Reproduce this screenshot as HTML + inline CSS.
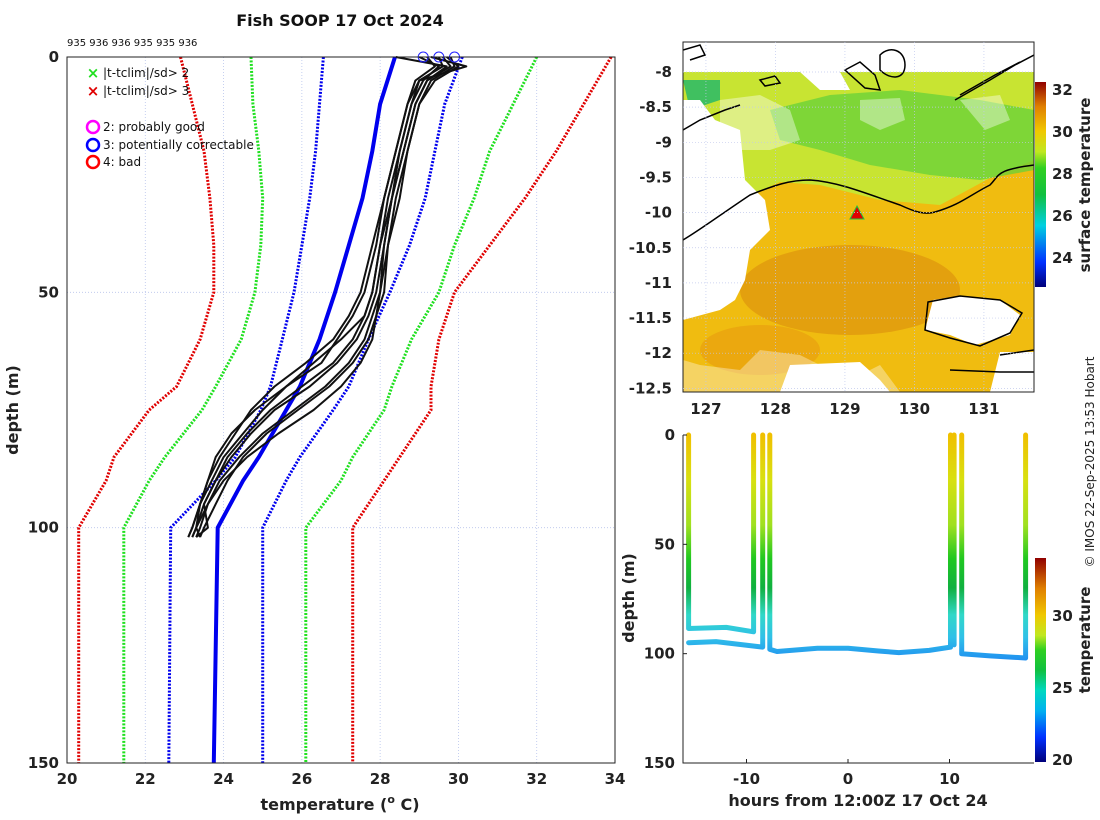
<!DOCTYPE html>
<html><head><meta charset="utf-8"><style>
body{margin:0;background:#fff;}
svg{display:block;font-family:"DejaVu Sans","Liberation Sans",sans-serif;}
.tk{font-size:15px;font-weight:bold;fill:#222;}
</style></head><body>
<svg id="fig" width="1100" height="820" viewBox="0 0 1100 820" xmlns="http://www.w3.org/2000/svg">
<defs>
<linearGradient id="sstbar" x1="0" y1="1" x2="0" y2="0">
<stop offset="0" stop-color="#00007a"/><stop offset="0.12" stop-color="#0030ff"/><stop offset="0.3" stop-color="#00d0e0"/><stop offset="0.45" stop-color="#10c040"/><stop offset="0.58" stop-color="#30d020"/><stop offset="0.66" stop-color="#c0e820"/><stop offset="0.76" stop-color="#f0c800"/><stop offset="0.88" stop-color="#e08000"/><stop offset="1" stop-color="#900000"/>
</linearGradient>
<linearGradient id="tbar" x1="0" y1="1" x2="0" y2="0">
<stop offset="0" stop-color="#00007a"/><stop offset="0.12" stop-color="#0030ff"/><stop offset="0.25" stop-color="#00b0f0"/><stop offset="0.35" stop-color="#00d8c0"/><stop offset="0.45" stop-color="#10c040"/><stop offset="0.55" stop-color="#30d020"/><stop offset="0.62" stop-color="#c0e820"/><stop offset="0.72" stop-color="#f0c800"/><stop offset="0.85" stop-color="#e08000"/><stop offset="1" stop-color="#900000"/>
</linearGradient>
<linearGradient id="trackgrad" gradientUnits="userSpaceOnUse" x1="0" y1="435" x2="0" y2="660">
<stop offset="0" stop-color="#f0c000"/><stop offset="0.2" stop-color="#d8e010"/><stop offset="0.4" stop-color="#a0e020"/><stop offset="0.55" stop-color="#20c820"/><stop offset="0.68" stop-color="#10b040"/><stop offset="0.8" stop-color="#30d8c8"/><stop offset="0.9" stop-color="#30c0e8"/><stop offset="1" stop-color="#2090f0"/>
</linearGradient>
<clipPath id="mapclip"><rect x="683" y="42" width="351" height="350"/></clipPath>
</defs>

<text x="340" y="26" text-anchor="middle" font-size="16" font-weight="bold" fill="#111">Fish SOOP 17 Oct 2024</text>
<text x="67" y="46" font-size="10" fill="#111">935 936 936 935 935 936</text>
<text transform="translate(18,410) rotate(-90)" text-anchor="middle" font-size="16" font-weight="bold" fill="#222">depth (m)</text>
<text x="340" y="810" text-anchor="middle" font-size="16" font-weight="bold" fill="#222">temperature (<tspan font-size="11" dy="-7">o</tspan><tspan dy="7"> C)</tspan></text>
<g id="left"></g>

<g id="map">
<g clip-path="url(#mapclip)">
<rect x="683" y="72" width="351" height="320" fill="#f0bc10"/>
<path d="M683,72 H1034 V160 L990,178 L940,205 L880,200 L820,185 L780,182 L740,200 L683,230 Z" fill="#c8e432"/>
<path d="M770,110 L830,95 L900,90 L980,100 L1034,110 V170 L980,180 L930,175 L870,165 L820,150 L780,140 Z" fill="#66d23a" opacity="0.75"/>
<path d="M683,80 H720 V100 L690,110 Z" fill="#40c060"/>
<ellipse cx="850" cy="290" rx="110" ry="45" fill="#e0980e" opacity="0.8"/>
<ellipse cx="760" cy="350" rx="60" ry="25" fill="#e8a010" opacity="0.7"/>
<path d="M683,100 H700 L715,120 L740,130 L745,180 L765,200 L770,230 L750,250 L745,280 L735,300 L720,310 L683,320 Z" fill="#fff"/>
<path d="M720,100 L760,95 L790,110 L800,140 L770,150 L740,150 L720,130 Z" fill="#fff" opacity="0.4"/>
<path d="M800,72 L840,72 L850,90 L820,90 Z" fill="#fff"/>
<path d="M860,100 L900,98 L905,120 L880,130 L860,120 Z" fill="#fff" opacity="0.4"/>
<path d="M960,100 L1000,95 L1010,120 L985,130 Z" fill="#fff" opacity="0.4"/>
<path d="M683,360 L700,365 L740,370 L760,350 L800,355 L830,370 L860,375 L880,365 L900,392 H683 Z" fill="#fff" opacity="0.35"/>
<path d="M780,392 L790,365 L860,362 L880,380 L890,392 Z" fill="#fff"/>
<path d="M933,300 L960,296 L1000,300 L1020,315 L1010,335 L975,345 L950,335 L925,330 Z" fill="#fff"/>
<path d="M1000,352 H1034 V392 H990 Z" fill="#fff"/>
<rect x="683" y="42" width="351" height="30" fill="#fff"/>
<g fill="none" stroke="#000" stroke-width="1.5">
<path d="M683,240 C700,230 720,215 750,195 C775,185 790,180 810,180 C840,182 870,195 900,205 C915,212 925,215 935,212 C960,205 970,195 990,185 C1000,175 995,170 1034,165"/>
<path d="M683,130 L700,120 L725,110 L740,105"/>
<path d="M928,302 L960,296 L1000,300 L1022,313 L1010,333 L980,346 L950,338 L925,330 Z"/>
<path d="M1000,355 L1034,350"/><path d="M950,370 L1000,372 L1034,372"/>
<path d="M955,100 L990,80 L1015,65 L1034,55"/><path d="M960,95 L995,75 L1020,62"/>
<path d="M880,55 C890,45 905,50 905,65 C905,80 890,80 880,70 Z"/>
<path d="M845,70 L860,62 L875,75 L880,90 L865,88 Z"/>
<path d="M683,50 L700,45 L705,55 L690,60"/>
<path d="M760,80 L775,76 L780,83 L765,86 Z"/>
</g>
<path d="M857,206 L864,219 L850,219 Z" fill="#e00000" stroke="#20c040" stroke-width="1"/>
</g>
<rect x="683" y="42" width="351" height="350" fill="none" stroke="#222" stroke-width="1"/>
</g>
<rect x="1035" y="82" width="11" height="205" fill="url(#sstbar)"/>
<text transform="translate(1090,185) rotate(-90)" text-anchor="middle" font-size="15" font-weight="bold" fill="#222">surface temperature</text>
<g id="mapaxes"></g>

<g id="track"></g>
<rect x="1035" y="558" width="11" height="204" fill="url(#tbar)"/>
<text transform="translate(1090,640) rotate(-90)" text-anchor="middle" font-size="15" font-weight="bold" fill="#222">temperature</text>
<text transform="translate(634,598) rotate(-90)" text-anchor="middle" font-size="16" font-weight="bold" fill="#222">depth (m)</text>
<text x="858" y="806" text-anchor="middle" font-size="16" font-weight="bold" fill="#222">hours from 12:00Z 17 Oct 24</text>
<text transform="translate(1094,462) rotate(-90)" text-anchor="middle" font-size="12" fill="#222">© IMOS 22-Sep-2025 13:53 Hobart</text>
</svg>
<script>
const NS="http://www.w3.org/2000/svg";
function mk(parent,tag,attrs){const e=document.createElementNS(NS,tag);for(const k in attrs)e.setAttribute(k,attrs[k]);parent.appendChild(e);return e;}

const climDepths=[0,10,20,30,40,50,60,70,75,85,90,100,150];
const climMean=[28.38,28.0,27.8,27.55,27.2,26.85,26.45,25.95,25.6,24.9,24.5,23.85,23.75];
const climPlus1=[30.1,29.65,29.4,29.15,28.75,28.25,27.7,27.2,26.8,25.95,25.6,25.0,25.0];
const climMinus1=[26.55,26.45,26.35,26.2,26.0,25.8,25.5,25.2,24.95,24.3,23.8,22.65,22.6];
const climPlus2=[32.0,31.4,30.8,30.4,29.9,29.5,28.8,28.3,28.1,27.3,27.0,26.1,26.1];
const climMinus2=[24.7,24.75,24.9,25.0,24.95,24.8,24.45,23.8,23.45,22.5,22.1,21.45,21.45];
const climPlus3=[33.9,33.2,32.5,31.7,30.8,29.9,29.5,29.3,29.3,28.5,28.1,27.3,27.3];
const climMinus3=[22.9,23.2,23.5,23.65,23.75,23.75,23.4,22.8,22.1,21.2,21.0,20.3,20.3];
const xbtDepths=[0,2,5,10,20,30,40,50,55,60,65,70,75,80,85,90,95,100,102];
const xbt1=[29.3,30.2,29.0,28.8,28.5,28.2,28.0,27.8,27.6,27.0,26.3,25.6,25.0,24.5,24.0,23.7,23.4,23.2,23.1];
const xbt2=[29.6,29.8,29.2,28.9,28.6,28.3,28.1,27.9,27.7,27.4,26.9,26.2,25.3,24.7,24.2,23.8,23.5,23.3,23.2];
const xbt3=[29.0,29.5,29.1,28.8,28.5,28.3,28.1,28.0,27.8,27.6,27.2,26.6,25.8,25.0,24.4,23.9,23.6,23.4,23.3];
const xbt4=[29.8,29.9,29.3,29.0,28.7,28.4,28.2,28.0,27.9,27.8,27.5,27.0,26.3,25.4,24.6,24.0,23.6,23.3,23.4];
const xbt5=[29.5,29.6,29.0,28.7,28.4,28.1,27.9,27.6,27.3,26.9,26.5,25.6,24.8,24.2,23.8,23.6,23.4,23.3,23.2];
const xbt6=[28.4,29.7,29.2,28.9,28.6,28.3,28.0,27.8,27.6,27.3,26.8,26.0,25.2,24.6,24.1,23.8,23.5,23.6,23.3];
const xbt7=[29.7,30.0,29.4,29.0,28.7,28.5,28.2,28.1,27.9,27.7,27.3,26.7,25.9,25.1,24.5,24.1,23.8,23.5,23.4];
const xbt8=[29.2,29.4,28.9,28.7,28.4,28.1,27.8,27.5,27.2,26.8,26.1,25.3,24.7,24.3,23.9,23.6,23.4,23.2,23.1];
const flagTemps=[29.1,29.5,29.9];
const xTicks=[20,22,24,26,28,30,32,34];
const yTicks=[0,50,100,150];

const L={x0:67,x1:615,y0:57,y1:763,tmin:20,tmax:34,dmax:150};
const tx=t=>L.x0+(t-L.tmin)/(L.tmax-L.tmin)*(L.x1-L.x0);
const dy=d=>L.y0+d/L.dmax*(L.y1-L.y0);
const left=document.getElementById('left');
let r=mk(left,'rect',{x:L.x0,y:L.y0,width:L.x1-L.x0,height:L.y1-L.y0,fill:'#fff',stroke:'none'});


xTicks.forEach(t=>{if(t>L.tmin&&t<L.tmax){const g=mk(left,'line',{x1:tx(t),x2:tx(t),y1:L.y0,y2:L.y1,stroke:'#b8c4ec','stroke-width':0.8,'stroke-dasharray':'1 2'});

}});
yTicks.forEach(d=>{if(d>0&&d<L.dmax){const g=mk(left,'line',{x1:L.x0,x2:L.x1,y1:dy(d),y2:dy(d),stroke:'#b8c4ec','stroke-width':0.8,'stroke-dasharray':'1 2'});

}});
function line(vals,depths,attrs,name){const pts=vals.map((v,i)=>tx(v).toFixed(1)+','+dy(depths[i]).toFixed(1)).join(' ');const p=mk(left,'polyline',Object.assign({points:pts,fill:'none'},attrs));

return p;}
line(climPlus3,climDepths,{stroke:'#e00000','stroke-width':3,'stroke-dasharray':'2 1.5'},'clim-plus3sd');
line(climMinus3,climDepths,{stroke:'#e00000','stroke-width':3,'stroke-dasharray':'2 1.5'},'clim-minus3sd');
line(climPlus2,climDepths,{stroke:'#20e020','stroke-width':3,'stroke-dasharray':'2 1.5'},'clim-plus2sd');
line(climMinus2,climDepths,{stroke:'#20e020','stroke-width':3,'stroke-dasharray':'2 1.5'},'clim-minus2sd');
line(climPlus1,climDepths,{stroke:'#0000ee','stroke-width':3,'stroke-dasharray':'2 1.5'},'clim-plus1sd');
line(climMinus1,climDepths,{stroke:'#0000ee','stroke-width':3,'stroke-dasharray':'2 1.5'},'clim-minus1sd');
line(climMean,climDepths,{stroke:'#0000ee','stroke-width':4},'clim-mean');
[xbt1,xbt2,xbt3,xbt4,xbt5,xbt6,xbt7,xbt8].forEach((p,i)=>line(p,xbtDepths,{stroke:'#111','stroke-width':2,'stroke-linejoin':'round'},'xbt-profile-'+(i+1)));
flagTemps.forEach(t=>{const c=mk(left,'circle',{cx:tx(t),cy:dy(0),r:5,fill:'none',stroke:'#2020ff','stroke-width':1});

});
r=mk(left,'rect',{x:L.x0,y:L.y0,width:L.x1-L.x0,height:L.y1-L.y0,fill:'none',stroke:'#222','stroke-width':1});


xTicks.forEach(t=>{const e=mk(left,'text',{x:tx(t),y:L.y1+21,'text-anchor':'middle',class:'tk'});e.textContent=t;

});
yTicks.forEach(d=>{const e=mk(left,'text',{x:L.x0-8,y:dy(d)+5,'text-anchor':'end',class:'tk'});e.textContent=d;

});
const legItems=[['x','#20e020','|t-tclim|/sd> 2',73],['x','#e00000','|t-tclim|/sd> 3',91],['o','#ff00ff','2: probably good',127],['o','#0000ff','3: potentially correctable',145],['o','#ff0000','4: bad',162]];
legItems.forEach(it=>{const g=mk(left,'g',{});


if(it[0]=='x'){mk(g,'text',{x:93,y:it[3]+5,'text-anchor':'middle','font-size':15,'font-weight':'bold',fill:it[1]}).textContent='×';}
else mk(g,'circle',{cx:93,cy:it[3],r:6,fill:'none',stroke:it[1],'stroke-width':2.5});
mk(g,'text',{x:103,y:it[3]+4,'font-size':12,fill:'#111'}).textContent=it[2];});

const lonTicks=[127,128,129,130,131];
const latTicks=[-8,-8.5,-9,-9.5,-10,-10.5,-11,-11.5,-12,-12.5];
const sstTicks=[24,26,28,30,32];
const M={x0:683,lon0:126.67,pxLon:69.5,y8:72,pxLat:70.3};
const lx=l=>M.x0+(l-M.lon0)*M.pxLon;
const ly=l=>M.y8+(-8-l)*M.pxLat;
const ma=document.getElementById('mapaxes');
lonTicks.forEach(l=>{const e=mk(ma,'text',{x:lx(l),y:414,'text-anchor':'middle',class:'tk'});e.textContent=l;


mk(ma,'line',{x1:lx(l),x2:lx(l),y1:42,y2:392,stroke:'#c0c8ec','stroke-width':0.7,'stroke-dasharray':'1 2'});});
latTicks.forEach(l=>{const e=mk(ma,'text',{x:672,y:ly(l)+5,'text-anchor':'end',class:'tk'});e.textContent=l;


mk(ma,'line',{x1:683,x2:1034,y1:ly(l),y2:ly(l),stroke:'#c0c8ec','stroke-width':0.7,'stroke-dasharray':'1 2'});});
const sy=v=>90+(32-v)*21;
sstTicks.forEach(v=>{const e=mk(ma,'text',{x:1052,y:sy(v)+5,class:'tk'});e.textContent=v;

});

const seg1Hours=[-15.7,-15.7,-12,-9.3,-9.3];
const seg1Depths=[0,88.5,88,90,0];
const seg2Hours=[-15.7,-13,-8.4,-8.4];
const seg2Depths=[95,94.5,97,0];
const seg3Hours=[-7.7,-7.7,-7,-3,0,3,5,8,10.1,10.1];
const seg3Depths=[0,98,99,97.5,97.5,98.8,99.5,98.5,97,0];
const seg4Hours=[10.45,10.45];
const seg4Depths=[0,96];
const seg5Hours=[11.2,11.2,14,17.5,17.5];
const seg5Depths=[0,100,101,102,0];
const hourTicks=[-10,0,10];
const depthTicks=[0,50,100,150];
const tempTicks=[20,25,30];
const T={x0:683,x1:1034,y0:435,y1:763,hx:848,pxH:10.15,dmax:150};
const hx=h=>T.hx+h*T.pxH;
const hy=d=>T.y0+d/T.dmax*(T.y1-T.y0);
const tr=document.getElementById('track');
[[seg1Hours,seg1Depths],[seg2Hours,seg2Depths],[seg3Hours,seg3Depths],[seg4Hours,seg4Depths],[seg5Hours,seg5Depths]].forEach((s,i)=>{
const pts=s[0].map((h,j)=>hx(h).toFixed(1)+','+hy(s[1][j]).toFixed(1)).join(' ');
const p=mk(tr,'polyline',{points:pts,fill:'none',stroke:'url(#trackgrad)','stroke-width':5,'stroke-linejoin':'round','stroke-linecap':'round'});

});
let ax=mk(tr,'path',{d:`M${T.x0},${T.y0} V${T.y1} H${T.x1}`,fill:'none',stroke:'#222','stroke-width':1});


hourTicks.forEach(h=>{mk(tr,'line',{x1:hx(h),x2:hx(h),y1:T.y1,y2:T.y1-4,stroke:'#222'});const e=mk(tr,'text',{x:hx(h),y:784,'text-anchor':'middle',class:'tk'});e.textContent=h;

});
depthTicks.forEach(d=>{mk(tr,'line',{x1:T.x0,x2:T.x0+4,y1:hy(d),y2:hy(d),stroke:'#222'});const e=mk(tr,'text',{x:675,y:hy(d)+5,'text-anchor':'end',class:'tk'});e.textContent=d;

});
const cy=v=>760-(v-20)*14.4;
tempTicks.forEach(v=>{const e=mk(tr,'text',{x:1052,y:cy(v)+5,class:'tk'});e.textContent=v;

});
</script>
</body></html>
